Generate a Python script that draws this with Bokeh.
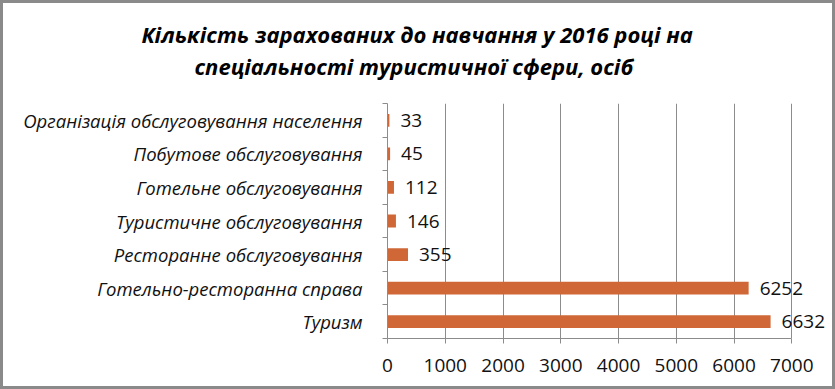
from bokeh.plotting import figure
from bokeh.models import (Range1d, LinearAxis, FixedTicker, ColumnDataSource, LabelSet, Title)
from bokeh.core.properties import value
from bokeh.embed import file_html
from bokeh.resources import INLINE

categories = ["Туризм", "Готельно-ресторанна справа", "Ресторанне обслуговування",
              "Туристичне обслуговування", "Готельне обслуговування",
              "Побутове обслуговування", "Організація обслуговування населення"]
values = [6632, 6252, 355, 146, 112, 45, 33]
x_ticks = [0, 1000, 2000, 3000, 4000, 5000, 6000, 7000]
title_lines = ["Кількість зарахованих до навчання у 2016 році на",
               "спеціальності туристичної сфери, осіб"]

BAR = "#CF6737"
GRID = "#8C8C8C"
FONT = "Open Sans"
TXT = "#111111"

n = len(categories)
centers = [i + 0.5 for i in range(n)]
src = ColumnDataSource(dict(y=centers, val=values, lab=[str(v) for v in values]))

p = figure(width=829, height=383, output_backend="svg", toolbar_location=None,
           y_range=Range1d(0, n), x_range=Range1d(0, 7600),
           x_axis_location=None, y_axis_location=None,
           frame_width=439, frame_height=235,
           min_border_left=384, min_border_right=6, min_border_top=100, min_border_bottom=48)
p.outline_line_color = None
p.background_fill_color = "white"
p.border_fill_color = "white"
p.styles = {"border": "3px solid #8a8a8a"}

# title (two centred lines); p.title is the outermost panel
p.title.text = title_lines[0]
p.title.align = "left"
p.title.offset = -246
p.title.text_font = FONT
p.title.text_font_style = "bold italic"
p.title.text_font_size = "22px"
p.title.text_color = "#000000"
p.title.standoff = 0
spacer = Title(text=" ", text_font_size="1px", standoff=20)
p.add_layout(spacer, "above")
t2 = Title(text=title_lines[1], align="left", offset=-193, text_font=FONT,
           text_font_style="bold italic", text_font_size="22px", text_color="#000000",
           standoff=0)
p.add_layout(t2, "above")

p.hbar(y="y", right="val", left=0, height=0.38, source=src,
       fill_color=BAR, line_color=None)

p.add_layout(LabelSet(x="val", y="y", text="lab", source=src, x_offset=11,
                      text_align="left", text_baseline="middle",
                      text_font=value(FONT), text_font_size="19px", text_color=TXT))

# x axis
xa = LinearAxis(ticker=FixedTicker(ticks=x_ticks), bounds=(0, 7000))
xa.axis_line_color = GRID
xa.major_tick_line_color = GRID
xa.major_tick_out = 5
xa.major_tick_in = 0
xa.minor_tick_line_color = None
xa.major_label_text_font = FONT
xa.major_label_text_font_size = "19px"
xa.major_label_text_color = TXT
xa.major_label_standoff = 15
p.add_layout(xa, "below")

# boundary tick axis (inner)
ba = LinearAxis(ticker=FixedTicker(ticks=list(range(n + 1))))
ba.axis_line_color = GRID
ba.major_tick_line_color = GRID
ba.major_tick_out = 5
ba.major_tick_in = 0
ba.minor_tick_line_color = None
ba.major_label_overrides = {i: "" for i in range(n + 1)}
ba.major_label_text_font_size = "1px"
ba.major_label_standoff = 0
p.add_layout(ba, "left")

# category labels axis (outer)
ca = LinearAxis(ticker=FixedTicker(ticks=centers))
ca.major_label_overrides = {c: name for c, name in zip(centers, categories)}
ca.axis_line_color = None
ca.major_tick_line_color = None
ca.minor_tick_line_color = None
ca.major_label_text_font = FONT
ca.major_label_text_font_style = "italic"
ca.major_label_text_font_size = "18.5px"
ca.major_label_text_color = TXT
ca.major_label_standoff = 14
p.add_layout(ca, "left")

p.xgrid.grid_line_color = GRID
p.xgrid.ticker = FixedTicker(ticks=x_ticks)
p.ygrid.grid_line_color = None

open("out.html", "w").write(file_html(p, INLINE))
